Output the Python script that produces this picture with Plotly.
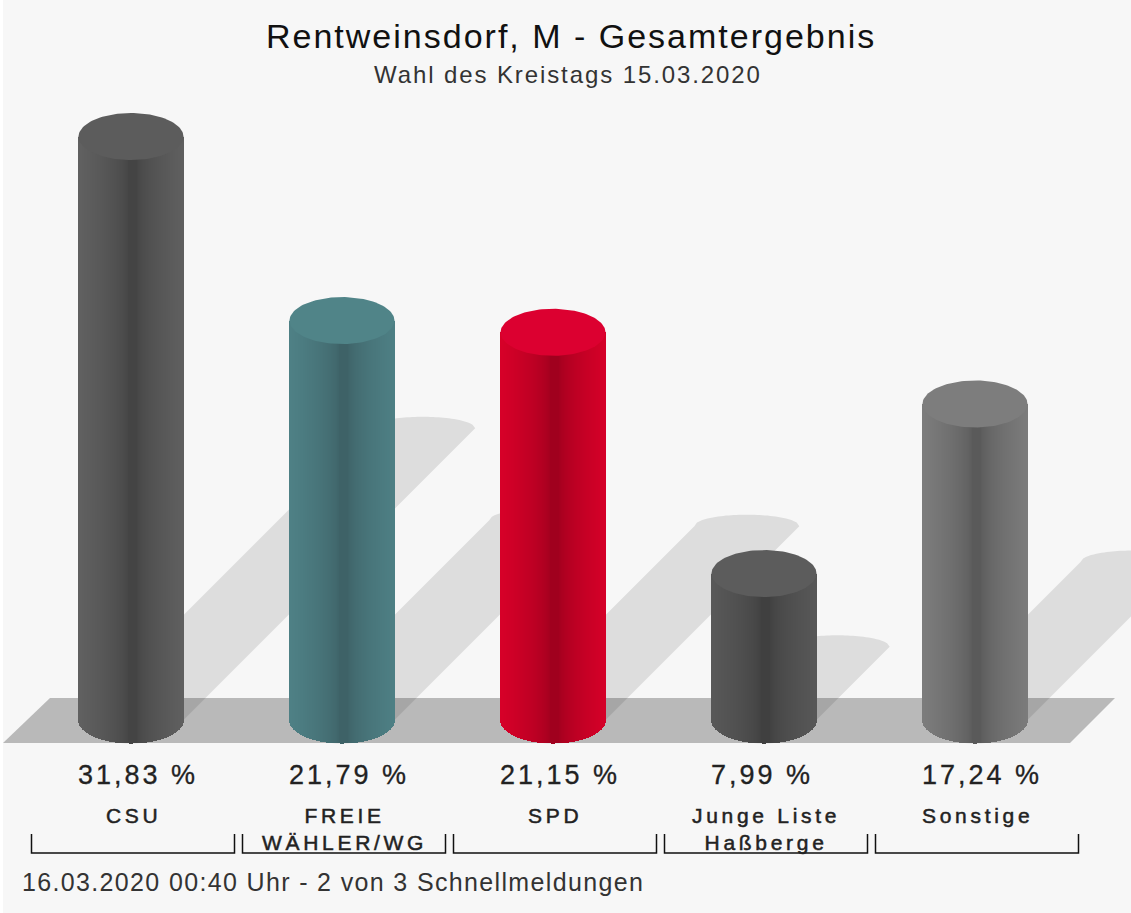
import numpy as np
import plotly.graph_objects as go

# values
parties = ["CSU", "FREIE<br>WÄHLER/WG", "SPD", "Junge Liste<br>Haßberge", "Sonstige"]
percent_labels = ["31,83 %", "21,79 %", "21,15 %", "7,99 %", "17,24 %"]
percent = [31.83, 21.79, 21.15, 7.99, 17.24]

edge_colors = [(96, 96, 96), (78, 128, 133), (214, 0, 40), (88, 88, 88), (124, 124, 124)]
dark_colors = [(68, 68, 68), (62, 98, 103), (160, 0, 30), (64, 64, 64), (90, 90, 90)]
top_colors = ["#5c5c5c", "#508488", "#dc0030", "#5c5c5c", "#7d7d7d"]

title = "Rentweinsdorf, M - Gesamtergebnis"
subtitle = "Wahl des Kreistags 15.03.2020"
footer = "16.03.2020 00:40 Uhr - 2 von 3 Schnellmeldungen"

WIDTH, HEIGHT = 1131, 913
# one category = 211 px, one percent = 18.33 px
PX_X, PX_Y = 211.0, 18.33
X0, Y0 = 131.0, 720.0
x_range = [(3 - X0) / PX_X, (WIDTH - X0) / PX_X]
y_range = [(Y0 - HEIGHT) / PX_Y, Y0 / PX_Y]

half_w = 52.5 / PX_X
half_h = 23.5 / PX_Y
shadow_h = 11.5 / PX_Y


def mix(a, b, f):
    return "rgb(%d,%d,%d)" % tuple(round(a[k] + (b[k] - a[k]) * f) for k in range(3))


def spaced(text, px, stroke=0):
    style = "letter-spacing:%spx" % px
    if stroke:
        style += ";stroke:#222222;stroke-width:%spx" % stroke
    return '<span style="%s">%s</span>' % (style, text)


fig = go.Figure()
shapes = []

# floor
floor_x = [(3 - X0) / PX_X, (50 - X0) / PX_X, (1115 - X0) / PX_X, (1070 - X0) / PX_X]
floor_y = [(Y0 - 743) / PX_Y, (Y0 - 698) / PX_Y, (Y0 - 698) / PX_Y, (Y0 - 743) / PX_Y]
shapes.append(dict(type="path", layer="below", xref="x", yref="y", fillcolor="#b9b9b9", line_width=0,
                   path="M" + " L".join("%f,%f" % p for p in zip(floor_x, floor_y)) + " Z"))

# shadows: the cylinder sheared 45 degrees to the upper right
for i, v in enumerate(percent):
    t = np.linspace(-1, 1, 41)
    cx = i + (v / 2) * PX_Y / PX_X
    sx = list(i + half_w * t) + list(cx + half_w * t[::-1])
    sy = list(-half_h * np.sqrt(1 - t ** 2)) + list(v / 2 + shadow_h * np.sqrt(1 - t[::-1] ** 2))
    shapes.append(dict(type="path", layer="below", xref="x", yref="y", fillcolor="rgba(0,0,0,0.1)", line_width=0,
                       path="M" + " L".join("%f,%f" % p for p in zip(sx, sy)) + " Z"))

# cylinder bodies, one bar per pixel column
for i, v in enumerate(percent):
    t = (np.arange(105) + 0.5) / 105 * 2 - 1
    bottom = -half_h * np.sqrt(1 - t ** 2)
    colors = [mix(dark_colors[i], edge_colors[i], (max(0, min(1, abs(k - 0.04)) - 0.08) / 0.92) ** 0.6) for k in t]
    fig.add_trace(go.Bar(x=i + half_w * t, base=bottom, y=v - bottom, width=1.0 / PX_X,
                         marker=dict(color=colors, line_width=0), showlegend=False, hoverinfo="skip"))

# cylinder tops
for i, v in enumerate(percent):
    a = np.linspace(0, 2 * np.pi, 121)
    fig.add_trace(go.Scatter(x=i + half_w * np.cos(a), y=v + half_h * np.sin(a), mode="lines", fill="toself",
                             fillcolor=top_colors[i], line=dict(width=0), showlegend=False, hoverinfo="skip"))

# brackets under the categories
bx, by = [], []
for i in range(len(parties)):
    left = i + (2 - 101.5) / PX_X
    right = i + (2 + 101.5) / PX_X
    bx += [left, left, right, right, None]
    by += [(Y0 - 834) / PX_Y, (Y0 - 853) / PX_Y, (Y0 - 853) / PX_Y, (Y0 - 834) / PX_Y, None]
fig.add_trace(go.Scatter(x=bx, y=by, mode="lines", line=dict(color="#111111", width=1.5),
                         showlegend=False, hoverinfo="skip"))

annotations = []
for i in range(len(parties)):
    annotations.append(dict(x=i - half_w - 3 / PX_X, y=(Y0 - 775) / PX_Y, xref="x", yref="y",
                            xanchor="left", yanchor="middle",
                            text=spaced(percent_labels[i], 3, 0.3), showarrow=False,
                            font=dict(family="Liberation Sans", size=27, color="#222222")))
    annotations.append(dict(x=i + 2 / PX_X, y=(Y0 - 802) / PX_Y, xref="x", yref="y", xanchor="center", yanchor="top",
                            text=spaced(parties[i], 3.7, 0.5), showarrow=False,
                            font=dict(family="Liberation Sans", size=21, color="#222222")))

for text, px, py, size, color, anchor in [
    (spaced(title, 2), 570, 36, 34, "#111111", "center"),
    (spaced(subtitle, 1.9), 567, 74, 24, "#333333", "center"),
    (spaced(footer, 1.35), 17, 882, 25, "#333333", "left"),
]:
    annotations.append(dict(x=px / WIDTH, y=1 - py / HEIGHT, xref="paper", yref="paper", xanchor=anchor,
                            yanchor="middle", text=text, showarrow=False,
                            font=dict(family="Liberation Sans", size=size, color=color)))

fig.update_layout(
    width=WIDTH, height=HEIGHT,
    margin=dict(l=3, r=0, t=0, b=0),
    paper_bgcolor="white", plot_bgcolor="#f7f7f7",
    barmode="overlay", bargap=0,
    xaxis=dict(range=x_range, visible=False, fixedrange=True),
    yaxis=dict(range=y_range, visible=False, fixedrange=True),
    shapes=shapes, annotations=annotations,
)

# the page's default body margin would push the figure 8 px down and right
fig.write_html("out.html", config=dict(displayModeBar=False),
               post_script="document.body.style.margin='0';document.body.style.overflow='hidden';")
